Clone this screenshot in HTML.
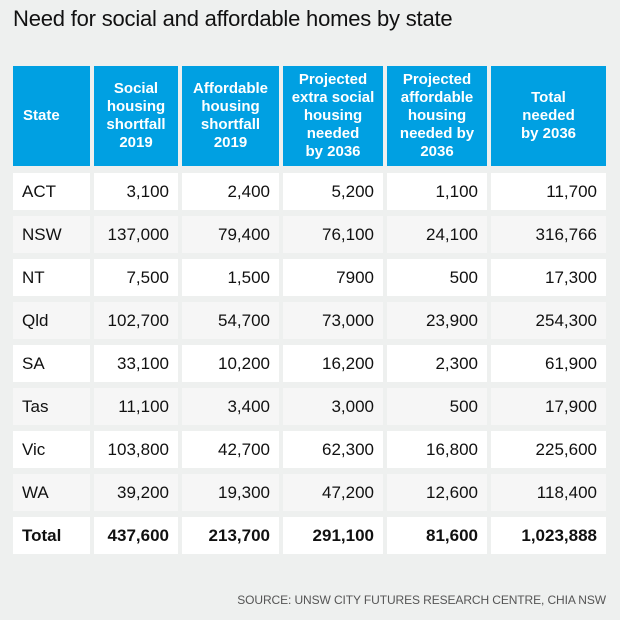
<!DOCTYPE html>
<html><head><meta charset="utf-8"><style>
body{margin:0;width:620px;height:620px;background:#eef0ef;font-family:"Liberation Sans",sans-serif;position:relative;overflow:hidden}
.t{position:absolute;left:13px;top:6px;font-size:22px;color:#111;letter-spacing:-0.2px}
.c{position:absolute;box-sizing:border-box;display:flex;align-items:center;font-size:17px;color:#111;padding:0 9px;justify-content:flex-end}
.h{background:#00a0e2;color:#fff;font-weight:bold;font-size:15px;line-height:18px;text-align:center;justify-content:center;padding:0 2px}
.s{position:absolute;right:14px;top:593px;font-size:12px;color:#555;letter-spacing:-0.1px}
</style></head><body>
<div class="t">Need for social and affordable homes by state</div>
<div id="tbl"></div>
<div class="s">SOURCE: UNSW CITY FUTURES RESEARCH CENTRE, CHIA NSW</div>
<script>
const headers=["State","Social<br>housing<br>shortfall<br>2019","Affordable<br>housing<br>shortfall<br>2019","Projected<br>extra social<br>housing<br>needed<br>by 2036","Projected<br>affordable<br>housing<br>needed by<br>2036","Total<br>needed<br>by 2036"];
const states=["ACT","NSW","NT","Qld","SA","Tas","Vic","WA","Total"];
const social2019=["3,100","137,000","7,500","102,700","33,100","11,100","103,800","39,200","437,600"];
const afford2019=["2,400","79,400","1,500","54,700","10,200","3,400","42,700","19,300","213,700"];
const social2036=["5,200","76,100","7900","73,000","16,200","3,000","62,300","47,200","291,100"];
const afford2036=["1,100","24,100","500","23,900","2,300","500","16,800","12,600","81,600"];
const total2036=["11,700","316,766","17,300","254,300","61,900","17,900","225,600","118,400","1,023,888"];
const cols=[[13,90],[94,178],[182,279],[283,383],[387,487],[491,606]];
const tbl=document.getElementById('tbl');
function cell(x0,x1,y,h,html,cls,bg){const d=document.createElement('div');d.className='c '+cls;d.style.left=x0+'px';d.style.width=(x1-x0)+'px';d.style.top=y+'px';d.style.height=h+'px';if(bg)d.style.background=bg;d.innerHTML=html;tbl.appendChild(d);return d;}
headers.forEach((t,i)=>{const d=cell(cols[i][0],cols[i][1],66,100,t,'h');


if(i===0){d.style.justifyContent='flex-start';d.style.paddingLeft='10px';}});
const series=[states,social2019,afford2019,social2036,afford2036,total2036];
states.forEach((s,r)=>{const y=173+r*43;const bg=r%2===0?'#ffffff':'#f6f6f6';
series.forEach((arr,i)=>{const d=cell(cols[i][0],cols[i][1],y,37,arr[r],'',bg);


if(i===0){d.style.justifyContent='flex-start';}
if(r===states.length-1){d.style.fontWeight='bold';}});});
</script>
</body></html>
